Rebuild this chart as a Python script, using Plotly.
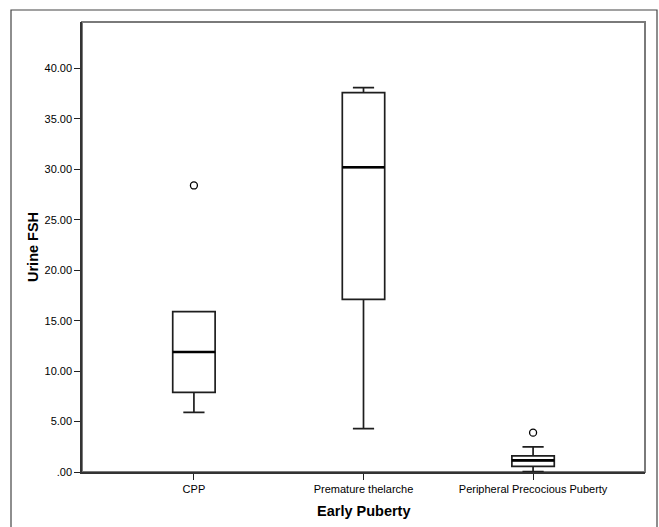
import plotly.graph_objects as go

# Urine FSH by early puberty group (box summary statistics)
categories = ["CPP", "Premature thelarche", "Peripheral Precocious Puberty"]
lower_whisker = [5.9, 4.3, 0.05]
q1_values = [7.9, 17.1, 0.55]
median_values = [11.9, 30.2, 1.15]
q3_values = [15.9, 37.6, 1.6]
upper_whisker = [15.9, 38.1, 2.5]

outlier_group = [0, 2]
outlier_values = [28.4, 3.9]

y_tick_values = [0, 5, 10, 15, 20, 25, 30, 35, 40]
y_tick_labels = [".00", "5.00", "10.00", "15.00", "20.00", "25.00", "30.00", "35.00", "40.00"]

positions = list(range(len(categories)))
box_width = 0.25
FONT = "Liberation Sans, Arial, sans-serif"

fig = go.Figure()

fig.add_trace(go.Box(
    x=positions,
    q1=q1_values,
    median=median_values,
    q3=q3_values,
    lowerfence=lower_whisker,
    upperfence=upper_whisker,
    width=box_width,
    whiskerwidth=0.5,
    fillcolor="white",
    line=dict(color="#1e1e1e", width=1.7),
    boxpoints=False,
    showlegend=False,
    hoverinfo="skip",
))

# heavier median bars drawn over each box
med_x, med_y = [], []
for p, m in zip(positions, median_values):
    med_x += [p - box_width / 2, p + box_width / 2, None]
    med_y += [m, m, None]
fig.add_trace(go.Scatter(
    x=med_x, y=med_y, mode="lines",
    line=dict(color="black", width=2.6),
    showlegend=False, hoverinfo="skip",
))

# outliers as open circles
fig.add_trace(go.Scatter(
    x=outlier_group, y=outlier_values, mode="markers",
    marker=dict(symbol="circle-open", size=7, color="black", line=dict(width=1.3)),
    showlegend=False, hoverinfo="skip",
))

L, R, T, B = 82, 14, 22, 55
W, H = 659, 527
pw, ph = W - L - R, H - T - B

fig.update_layout(
    width=W, height=H,
    margin=dict(l=L, r=R, t=T, b=B),
    paper_bgcolor="white",
    plot_bgcolor="white",
    font=dict(family=FONT, size=11, color="black"),
    xaxis=dict(
        range=[-0.66, 2.66],
        tickvals=positions, ticktext=categories,
        ticks="outside", ticklen=6, tickwidth=1.3, tickcolor="#222222",
        showline=True, linecolor="#333333", linewidth=1.5,
        showgrid=False, zeroline=False,
        tickfont=dict(family=FONT, size=11, color="black"),
    ),
    yaxis=dict(
        range=[0, 44.6],
        tickvals=y_tick_values, ticktext=y_tick_labels,
        ticks="outside", ticklen=6, tickwidth=1.3, tickcolor="#222222",
        showline=True, linecolor="#333333", linewidth=1.5,
        showgrid=False, zeroline=False,
        tickfont=dict(family=FONT, size=11, color="black"),
    ),
    shapes=[
        # plot frame
        dict(type="rect", xref="paper", yref="paper", x0=0, x1=1, y0=0, y1=1,
             line=dict(color="#7a7a7a", width=2), layer="below"),
        # outer chart border
        dict(type="rect", xref="paper", yref="paper",
             x0=(11 - L) / pw, x1=(657 - L) / pw,
             y0=(T + ph - 545) / ph, y1=(T + ph - 10) / ph,
             line=dict(color="#444444", width=1.2)),
    ],
    annotations=[
        dict(text="<b>Urine FSH</b>", xref="paper", yref="paper",
             x=(33 - L) / pw, y=0.5, textangle=-90, showarrow=False,
             xanchor="center", yanchor="middle",
             font=dict(family=FONT, size=14.5, color="black")),
        dict(text="<b>Early Puberty</b>", xref="paper", yref="paper",
             x=0.5, y=(T + ph - 511) / ph, showarrow=False,
             xanchor="center", yanchor="middle",
             font=dict(family=FONT, size=14.5, color="black")),
    ],
)

fig.write_html("out.html")
